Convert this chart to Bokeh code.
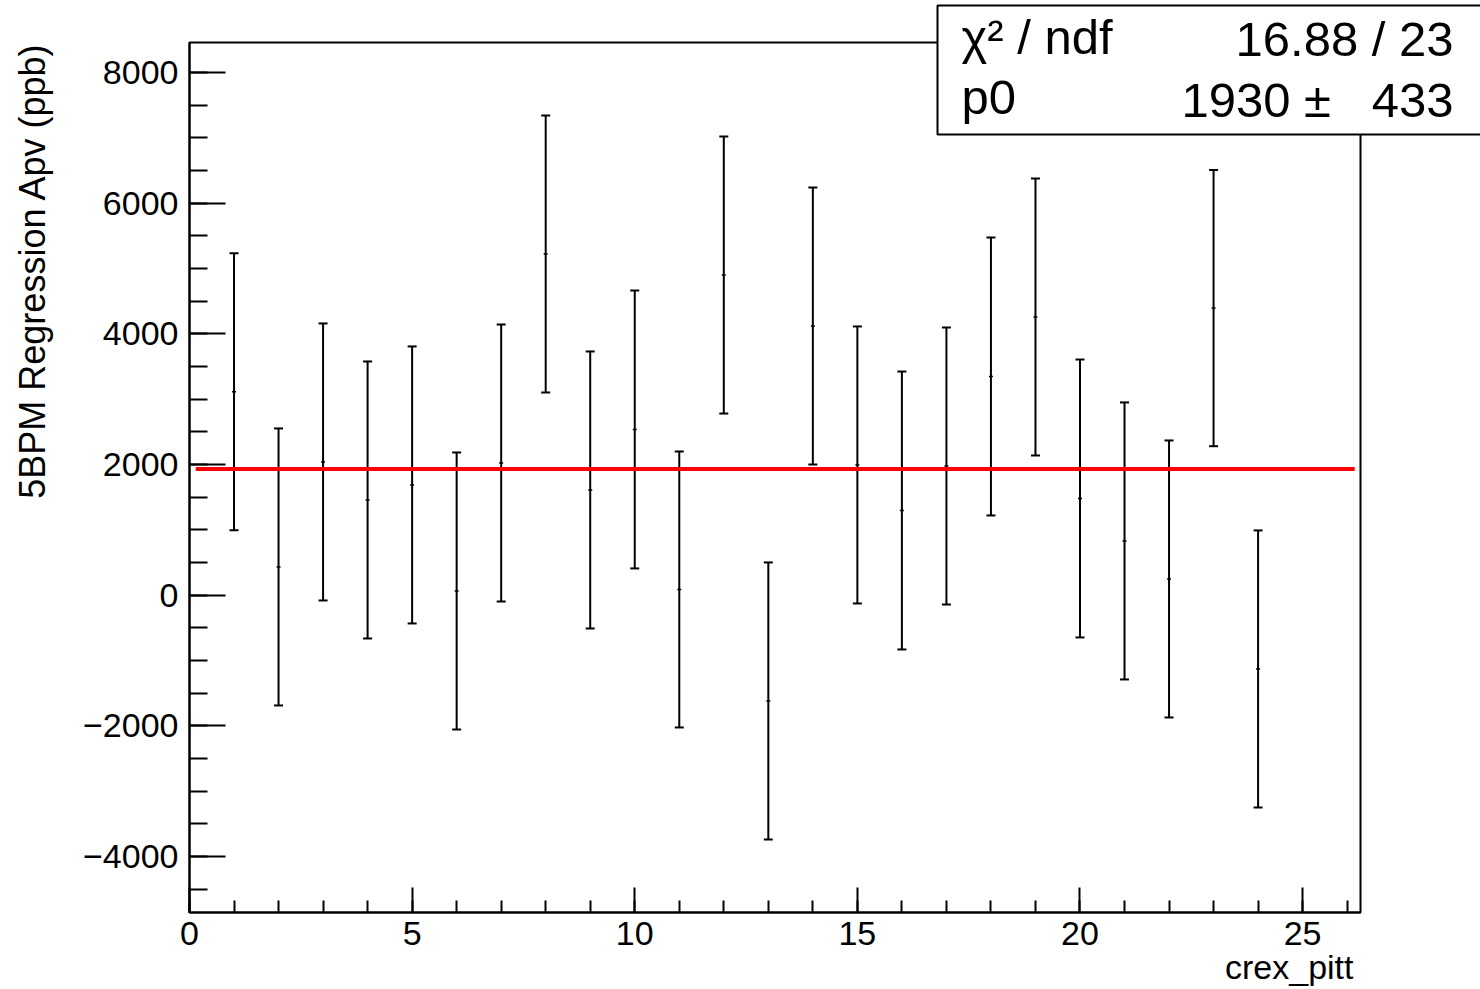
import math
from bokeh.plotting import figure
from bokeh.models import Range1d, FixedTicker, CustomJSTickFormatter, ColumnDataSource
from bokeh.core.properties import value
from bokeh.embed import file_html
from bokeh.resources import INLINE

# ---------------- data ----------------
run_index = [1, 2, 3, 4, 5, 6, 7, 8, 9, 10, 11, 12,
             13, 14, 15, 16, 17, 18, 19, 20, 21, 22, 23, 24]
apv = [3114, 432, 2039, 1457, 1687, 64, 2023, 5222, 1610, 2536, 87, 4900,
       -1619, 4120, 1993, 1296, 1977, 3347, 4258, 1480, 830, 248, 4394, -1129]
apv_err = [2120, 2120, 2120, 2120, 2120, 2120, 2120, 2120, 2120, 2127, 2112, 2120,
           2120, 2120, 2120, 2127, 2120, 2127, 2120, 2127, 2120, 2120, 2114, 2120]
fit_p0 = 1930
fit_p0_err = 433
chi2 = 16.88
ndf = 23
fit_range = [0.14, 26.17]
x_ticks = [0, 5, 10, 15, 20, 25]
y_ticks = [-4000, -2000, 0, 2000, 4000, 6000, 8000]
x_title = "crex_pitt"
y_title = "5BPM Regression Apv (ppb)"

# ---------------- geometry ----------------
W, H = 1480, 989
X0, X1 = 0.0, 26.3
Y0, Y1 = -4857.0, 8459.0
FL, FR, FT, FB = 189, 1360, 42, 912   # frame edges in pixels


def px2x(px):
    return X0 + (px - FL) * (X1 - X0) / (FR - FL)


def py2y(py):
    return Y1 - (py - FT) * (Y1 - Y0) / (FB - FT)


FONT = "Liberation Sans"
NB = "\u00a0"

p = figure(width=W, height=H, output_backend="svg", toolbar_location=None,
           x_range=Range1d(X0, X1), y_range=Range1d(Y0, Y1),
           min_border_left=FL, min_border_right=W - FR,
           min_border_top=FT, min_border_bottom=H - FB,
           background_fill_color="white", border_fill_color="white")
p.outline_line_color = "black"
p.outline_line_width = 2
p.outline_line_alpha = 1.0
p.xgrid.visible = False
p.ygrid.visible = False

# axes
p.xaxis.ticker = FixedTicker(ticks=x_ticks, minor_ticks=list(range(0, 27)))
p.yaxis.ticker = FixedTicker(ticks=y_ticks,
                             minor_ticks=[v for v in range(-4500, 8001, 500)])
p.yaxis.formatter = CustomJSTickFormatter(
    code="return tick < 0 ? '\u2212' + Math.abs(tick) : String(tick);")
for ax in (p.xaxis, p.yaxis):
    ax.axis_line_color = "black"
    ax.axis_line_width = 2
    ax.major_tick_line_color = "black"
    ax.major_tick_line_width = 2
    ax.minor_tick_line_color = "black"
    ax.minor_tick_line_width = 2
    ax.major_tick_out = 0
    ax.minor_tick_out = 0
    ax.major_label_text_font = FONT
    ax.major_label_text_font_size = "34px"
    ax.major_label_text_color = "black"
p.xaxis.major_tick_in = 25
p.xaxis.minor_tick_in = 12
p.yaxis.major_tick_in = 36
p.yaxis.minor_tick_in = 18
p.xaxis.major_label_standoff = 9
p.yaxis.major_label_standoff = 11

# error bars
src = ColumnDataSource(dict(
    x=run_index, y=apv,
    lo=[a - e for a, e in zip(apv, apv_err)],
    hi=[a + e for a, e in zip(apv, apv_err)],
))
p.segment(x0="x", x1="x", y0="lo", y1="hi", source=src,
          line_color="black", line_width=2)
p.dash(x="x", y="hi", source=src, size=9, line_color="black", line_width=2)
p.dash(x="x", y="lo", source=src, size=9, line_color="black", line_width=2)
p.dash(x="x", y="y", source=src, size=4, line_color="black", line_width=1.5)

# fit line
p.segment(x0=[fit_range[0]], x1=[fit_range[1]], y0=[fit_p0], y1=[fit_p0],
          line_color="#ff0000", line_width=4)

# axis titles (overlay level so they are not clipped to the frame)
p.text(x=[px2x(32)], y=[py2y(42)], text=[y_title], angle=math.pi / 2,
       text_align="right", text_baseline="alphabetic",
       text_font=value(FONT), text_font_size=value("36px"), text_color="black",
       level="overlay")
p.text(x=[px2x(1353)], y=[py2y(966)], text=[x_title],
       text_align="right", text_baseline="alphabetic",
       text_font=value(FONT), text_font_size=value("34px"), text_color="black",
       level="overlay")

# stats box
p.quad(left=[px2x(937)], right=[px2x(1500)], top=[py2y(5)], bottom=[py2y(134)],
       fill_color="white", fill_alpha=1.0, line_color="black", line_width=2,
       level="overlay")
stat_font = value("49px")
p.text(x=[px2x(961), px2x(961)], y=[py2y(36), py2y(96)],
       text=["\u03c7\u00b2 / ndf", "p0"],
       text_align="left", text_baseline="alphabetic",
       text_font=value(FONT), text_font_size=stat_font, text_color="black",
       level="overlay")
p.text(x=[px2x(1453), px2x(1453)], y=[py2y(38), py2y(99)],
       text=[f"{chi2:.2f} / {ndf}", f"{fit_p0} \u00b1{NB}{NB}{NB}{fit_p0_err}"],
       text_align="right", text_baseline="alphabetic",
       text_font=value(FONT), text_font_size=stat_font, text_color="black",
       level="overlay")

open("out.html", "w").write(file_html(p, INLINE))
